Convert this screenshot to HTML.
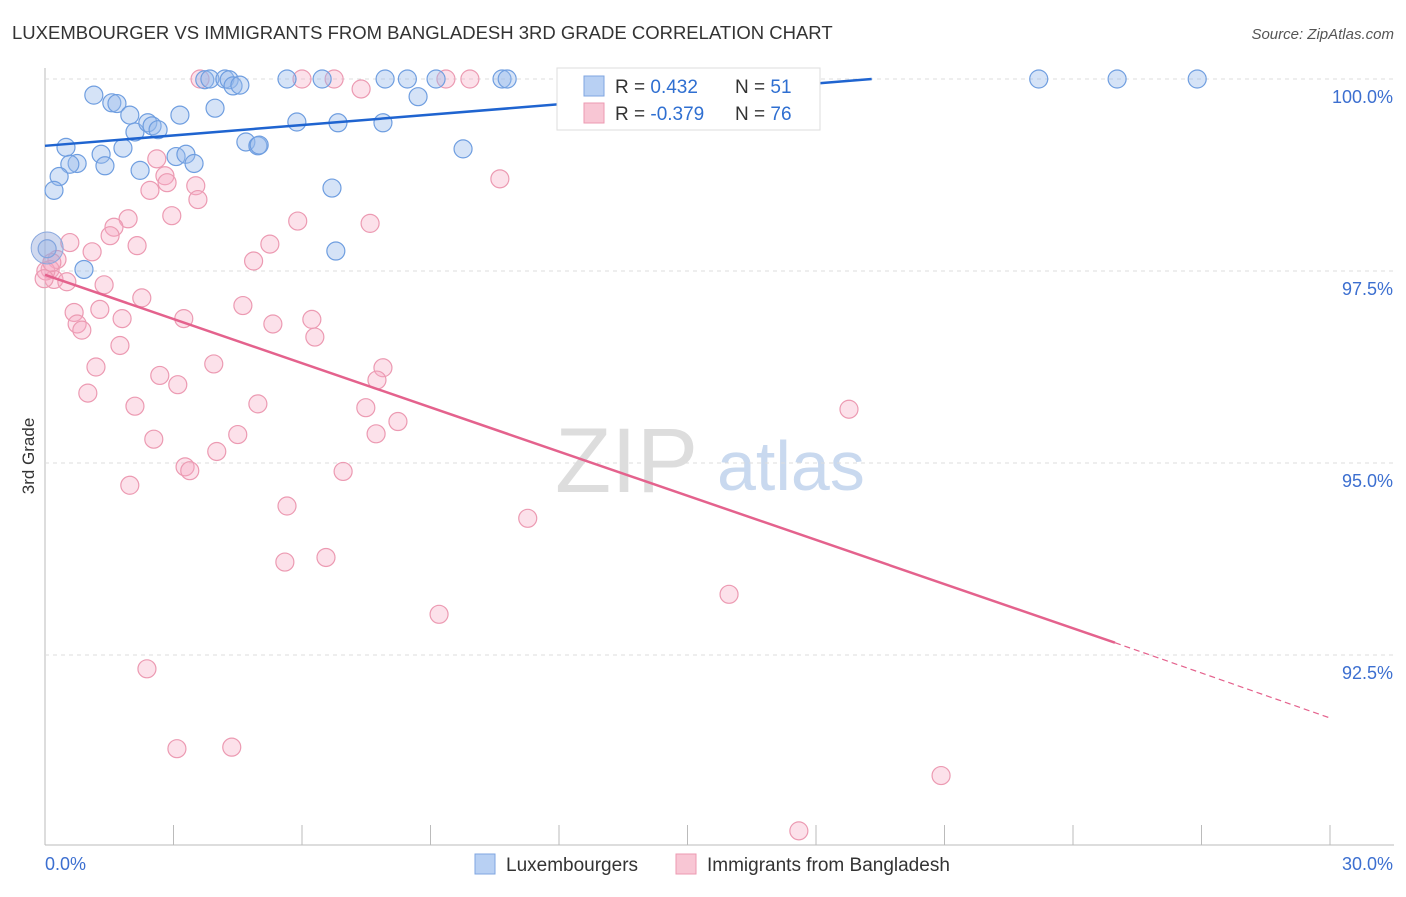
<!DOCTYPE html>
<html><head><meta charset="utf-8"><style>
body{margin:0;background:#fff;font-family:"Liberation Sans",sans-serif}
svg text{font-family:"Liberation Sans",sans-serif}
</style></head><body>
<svg id="c" width="1406" height="892">
<text x="12" y="39" font-size="18.5" fill="#333">LUXEMBOURGER VS IMMIGRANTS FROM BANGLADESH 3RD GRADE CORRELATION CHART</text>
<text x="1394" y="39" font-size="15" fill="#555" font-style="italic" text-anchor="end">Source: ZipAtlas.com</text>
<text x="34" y="456" font-size="17" fill="#333" transform="rotate(-90 34 456)" text-anchor="middle">3rd Grade</text>
<text x="555" y="492" font-size="92" fill="#ddd" font-family="Liberation Serif">ZIP</text>
<text x="717" y="490" font-size="70" fill="#c9d9ef">atlas</text>
<g id="grid"></g><g id="pts"></g><g id="trend"></g>
<g>
<rect x="557" y="68" width="263" height="62" fill="#fff" stroke="#ddd"/>
<rect x="584" y="76" width="20" height="20" fill="#b8d0f3" stroke="#7fa6e0"/>
<rect x="584" y="103" width="20" height="20" fill="#f8c6d4" stroke="#ec9ab2"/>
<text x="615" y="93" font-size="19" fill="#333">R = <tspan fill="#2f6fd1"> 0.432</tspan></text>
<text x="735" y="93" font-size="19" fill="#333">N = <tspan fill="#2f6fd1">51</tspan></text>
<text x="615" y="120" font-size="19" fill="#333">R = <tspan fill="#2f6fd1">-0.379</tspan></text>
<text x="735" y="120" font-size="19" fill="#333">N = <tspan fill="#2f6fd1">76</tspan></text>
</g>
<g>
<rect x="475" y="854" width="20" height="20" fill="#b8d0f3" stroke="#7fa6e0"/>
<text x="506" y="871" font-size="19" fill="#333">Luxembourgers</text>
<rect x="676" y="854" width="20" height="20" fill="#f8c6d4" stroke="#ec9ab2"/>
<text x="707" y="871" font-size="19" fill="#333">Immigrants from Bangladesh</text>
</g>
</svg>
<script>
const xTickLabels=["0.0%","30.0%"];
const yTicks=[100,97.5,95,92.5];
const yTickLabels=["100.0%","97.5%","95.0%","92.5%"];
const blueX=[1.14,1.56,1.68,1.98,2.1,2.4,2.5,2.64,3.15,3.97,0.49,1.31,1.82,0.75,0.58,1.4,0.33,0.21,2.22,3.06,3.29,3.48,4.69,4.97,5.0,5.88,6.84,7.89,9.76,6.7,6.79,0.91,0.05,3.73,3.85,4.2,4.3,4.39,4.55,5.65,6.47,7.94,8.46,9.13,10.67,10.79,8.71,23.2,25.03,26.9];
const blueY=[99.79,99.69,99.68,99.53,99.31,99.43,99.39,99.34,99.53,99.62,99.11,99.02,99.1,98.9,98.89,98.87,98.73,98.55,98.81,98.99,99.02,98.9,99.18,99.13,99.14,99.44,99.43,99.43,99.09,98.58,97.76,97.52,97.79,99.99,100,100,99.99,99.91,99.92,100,100,100,100,100,100,100,99.77,100,100,100];
const pinkX=[3.62,6.0,6.75,9.36,9.92,7.38,10.62,2.61,2.8,2.85,2.45,3.52,3.57,2.96,1.94,1.61,1.52,2.15,1.1,0.58,0.28,0.12,5.25,4.87,5.9,7.59,0.21,0.51,1.38,2.26,4.62,6.23,6.3,5.32,3.24,1.8,0.68,0.75,0.86,1.75,1.28,1.19,1.0,2.1,2.68,3.1,3.94,4.97,7.49,7.89,7.75,8.24,7.73,2.54,4.5,4.01,3.27,3.38,1.98,6.96,5.65,5.6,6.56,11.27,9.2,15.97,18.77,2.38,3.08,4.36,20.92,17.6,0.02,-0.02,0.16];
const pinkY=[100,100,100,100,100,99.87,98.7,98.96,98.74,98.65,98.55,98.61,98.43,98.22,98.18,98.07,97.96,97.83,97.75,97.87,97.65,97.52,97.85,97.63,98.15,98.12,97.39,97.36,97.32,97.15,97.05,96.87,96.64,96.81,96.88,96.88,96.96,96.81,96.73,96.53,97.0,96.25,95.91,95.74,96.14,96.02,96.29,95.77,95.72,96.24,96.08,95.54,95.38,95.31,95.37,95.15,94.95,94.9,94.71,94.89,94.44,93.71,93.77,94.28,93.03,93.29,95.7,92.32,91.28,91.3,90.93,90.21,97.5,97.4,97.61];
const X=v=>45+v/30*1285, Y=v=>79+(100-v)*76.8;
const NS="http://www.w3.org/2000/svg";
function mk(t,a,p){const e=document.createElementNS(NS,t);for(const k in a)e.setAttribute(k,a[k]);p.appendChild(e);return e;}
const g=document.getElementById('grid');
mk('line',{x1:45,y1:68,x2:45,y2:845,stroke:'#bbb'},g);
mk('line',{x1:45,y1:845,x2:1394,y2:845,stroke:'#bbb'},g);
yTicks.forEach((t,i)=>{
 const l=mk('line',{x1:45,y1:Y(t),x2:1394,y2:Y(t),stroke:'#ddd','stroke-dasharray':'4 4'},g);
 
 
 const tx=mk('text',{x:1393,y:Y(t)+24,'font-size':18,fill:'#3c6fd0','text-anchor':'end'},g);
 tx.textContent=yTickLabels[i];
 
 
});
for(let i=0;i<=10;i++){
 const l=mk('line',{x1:X(i*3),y1:825,x2:X(i*3),y2:845,stroke:'#bbb'},g);
 
 
}
const xl0=mk('text',{x:45,y:870,'font-size':18,fill:'#3c6fd0'},g);xl0.textContent=xTickLabels[0];


const xl1=mk('text',{x:1393,y:870,'font-size':18,fill:'#3c6fd0','text-anchor':'end'},g);xl1.textContent=xTickLabels[1];


const p=document.getElementById('pts');
pinkX.forEach((v,i)=>{const c=mk('circle',{cx:X(v),cy:Y(pinkY[i]),r:9,fill:'rgba(246,170,195,0.35)',stroke:'#ec9ab2','stroke-width':1.2},p);
 
 });
blueX.forEach((v,i)=>{const c=mk('circle',{cx:X(v),cy:Y(blueY[i]),r:9,fill:'rgba(150,185,235,0.4)',stroke:'#6f9ee0','stroke-width':1.2},p);
 
 });
const big=mk('circle',{cx:X(0.05),cy:Y(97.8),r:16,fill:'rgba(150,170,220,0.45)',stroke:'#8aa8de'},p);


const tr=document.getElementById('trend');
const bl=mk('line',{x1:X(0),y1:Y(99.13),x2:X(19.3),y2:Y(100),stroke:'#1f64d0','stroke-width':2.5},tr);


const pl=mk('line',{x1:X(0),y1:Y(97.45),x2:X(24.98),y2:Y(92.66),stroke:'#e4628d','stroke-width':2.5},tr);


const pd=mk('line',{x1:X(24.98),y1:Y(92.66),x2:X(30),y2:Y(91.68),stroke:'#e4628d','stroke-width':1.2,'stroke-dasharray':'6 4'},tr);


</script>
</body></html>
